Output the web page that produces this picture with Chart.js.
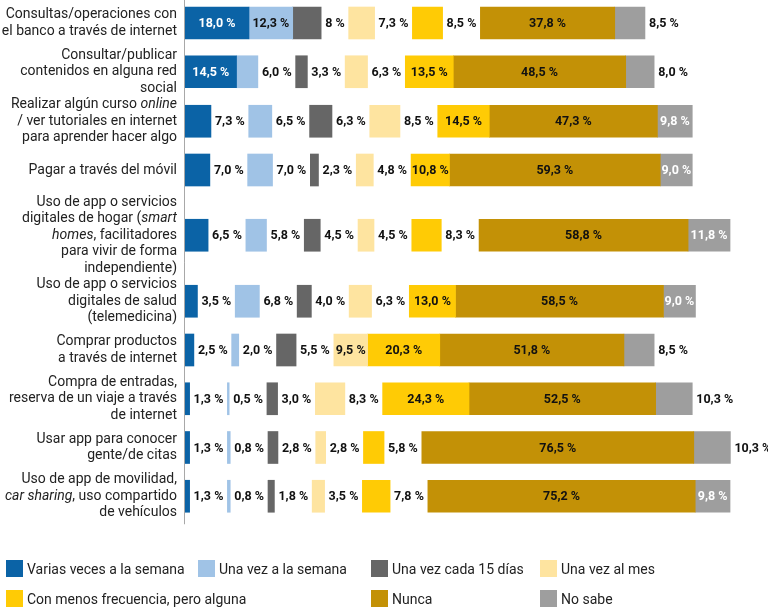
<!DOCTYPE html>
<html lang="es">
<head>
<meta charset="utf-8">
<script src="https://cdn.jsdelivr.net/npm/chart.js@4.4.1/dist/chart.umd.min.js"></script>
<style>
  body { margin: 0; background: #fff; }
  .wrap { position: relative; width: 768px; height: 611px; }
  .legend { position: absolute; left: 0; top: 0; font: 14px Roboto, sans-serif; color: #222; }
  .legend-item { position: absolute; display: flex; align-items: center; white-space: nowrap; height: 17px; }
  .legend-item .box { width: 17px; height: 17px; margin-right: 4px; }
</style>
</head>
<body>
<div class="wrap">
  <canvas class="js-chart" width="768" height="611"></canvas>
  <div class="legend js-legend"></div>
</div>
<script>
// category labels, one string per line; _text_ = italic
const categories = [
  ["Consultas/operaciones con", "el banco a través de internet"],
  ["Consultar/publicar", "contenidos en alguna red", "social"],
  ["Realizar algún curso _online_", "/ ver tutoriales en internet", "para aprender hacer algo"],
  ["Pagar a través del móvil"],
  ["Uso de app o servicios", "digitales de hogar (_smart_", "_homes_, facilitadores", "para vivir de forma", "independiente)"],
  ["Uso de app o servicios", "digitales de salud", "(telemedicina)"],
  ["Comprar productos", "a través de internet"],
  ["Compra de entradas,", "reserva de un viaje a través", "de internet"],
  ["Usar app para conocer", "gente/de citas"],
  ["Uso de app de movilidad,", "_car sharing_, uso compartido", "de vehículos"]
];

const seriesNames = [
  "Varias veces a la semana",
  "Una vez a la semana",
  "Una vez cada 15 días",
  "Una vez al mes",
  "Con menos frecuencia, pero alguna",
  "Nunca",
  "No sabe"
];

const variasVeces = [18.0, 14.5, 7.3, 7.0, 6.5, 3.5, 2.5, 1.3, 1.3, 1.3];
const unaVezSemana = [12.3, 6.0, 6.5, 7.0, 5.8, 6.8, 2.0, 0.5, 0.8, 0.8];
const cada15Dias = [8.0, 3.3, 6.3, 2.3, 4.5, 4.0, 5.5, 3.0, 2.8, 1.8];
const unaVezMes = [7.3, 6.3, 8.5, 4.8, 4.5, 6.3, 9.5, 8.3, 2.8, 3.5];
const menosFrecuencia = [8.5, 13.5, 14.5, 10.8, 8.3, 13.0, 20.3, 24.3, 5.8, 7.8];
const nunca = [37.8, 48.5, 47.3, 59.3, 58.8, 58.5, 51.8, 52.5, 76.5, 75.2];
const noSabe = [8.5, 8.0, 9.8, 9.0, 11.8, 9.0, 8.5, 10.3, 10.3, 9.8];

const series = [variasVeces, unaVezSemana, cada15Dias, unaVezMes, menosFrecuencia, nunca, noSabe];

const colors = ["#0b63a6", "#a0c3e6", "#666666", "#fee4a0", "#ffcb05", "#c39106", "#9e9e9e"];
const insideTextColors = ["#fff", "#111", "#fff", "#111", "#111", "#111", "#fff"];

// the picture writes this one as "8 %"
const labelOverrides = { "0-2": "8 %" };
// "No sabe" labels sitting inside the bar
const noSabeInside = [false, false, true, true, true, true, false, false, false, true];

const W = 768, H = 611;
const LEFT = 185;
const XMAX = 164;
const pxPerUnit = (W - LEFT) / XMAX;
const valueFont = "700 12.5px Roboto";
const catFont = "14px Roboto";
const lineH = 16.5;

const ctx = document.querySelector(".js-chart").getContext("2d");
const measure = document.createElement("canvas").getContext("2d");
measure.font = valueFont;

function labelText(v, row, col) {
  return labelOverrides[row + "-" + col] || v.toFixed(1).replace(".", ",") + " %";
}

function isInside(v, row, col) {
  if (col === 6) return noSabeInside[row];
  return v >= 9;
}

// row centres from label heights
function rowCenters() {
  const ext = categories.map((lines) => Math.max(48, lines.length * lineH));
  const out = [23];
  for (let i = 1; i < ext.length; i++) {
    out.push(out[i - 1] + (ext[i - 1] + ext[i]) / 2);
  }
  return out;
}
const centers = rowCenters();

// floating segments, with room after a segment when its label goes outside
function buildSegments() {
  const segs = series.map(() => []);
  categories.forEach((_, row) => {
    let cursor = 0;
    series.forEach((vals, col) => {
      const v = vals[row];
      segs[col].push({ x: [cursor, cursor + v], y: centers[row] });
      cursor += v;
      if (!isInside(v, row, col)) {
        const w = measure.measureText(labelText(v, row, col)).width;
        cursor += (w + 8) / pxPerUnit;
      }
    });
  });
  return segs;
}
const segments = buildSegments();

function drawRich(c, line, right, y) {
  const parts = line.split("_").map((t, i) => ({ t, italic: i % 2 === 1 }));
  let total = 0;
  parts.forEach((p) => {
    c.font = (p.italic ? "italic " : "") + catFont;
    p.w = c.measureText(p.t).width;
    total += p.w;
  });
  let x = right - total;
  parts.forEach((p) => {
    c.font = (p.italic ? "italic " : "") + catFont;
    c.fillText(p.t, x, y);
    x += p.w;
  });
}

const labelsPlugin = {
  id: "labels",
  afterDatasetsDraw(chart) {
    const c = chart.ctx;
    c.save();
    // axis line
    c.strokeStyle = "#a8a8a8";
    c.lineWidth = 1;
    c.beginPath();
    c.moveTo(LEFT - 0.5, 0);
    c.lineTo(LEFT - 0.5, chart.scales.y.getPixelForValue(centers[centers.length - 1]) + 28);
    c.stroke();

    // value labels
    c.font = valueFont;
    c.textBaseline = "middle";
    chart.data.datasets.forEach((ds, col) => {
      chart.getDatasetMeta(col).data.forEach((bar, row) => {
        const { x, base, y } = bar.getProps(["x", "base", "y"], true);
        const v = series[col][row];
        const txt = labelText(v, row, col);
        if (isInside(v, row, col)) {
          c.fillStyle = insideTextColors[col];
          c.textAlign = "center";
          c.fillText(txt, (x + base) / 2, y + 1);
        } else {
          c.fillStyle = "#111";
          c.textAlign = "left";
          c.fillText(txt, Math.max(x, base) + 4, y + 1);
        }
      });
    });

    // category labels
    c.fillStyle = "#222";
    c.textAlign = "left";
    const yScale = chart.scales.y;
    categories.forEach((lines, row) => {
      const cy = yScale.getPixelForValue(centers[row]);
      const top = cy - ((lines.length - 1) * lineH) / 2;
      lines.forEach((line, k) => drawRich(c, line, 177, top + k * lineH));
    });
    c.restore();
  }
};

new Chart(ctx, {
  type: "bar",
  data: {
    datasets: seriesNames.map((name, col) => ({
      label: name,
      data: segments[col],
      backgroundColor: colors[col],
      borderWidth: 0,
      barThickness: 32,
      grouped: false
    }))
  },
  options: {
    indexAxis: "y",
    responsive: false,
    animation: false,
    layout: { padding: { left: LEFT, right: 0, top: 0, bottom: 0 } },
    scales: {
      x: { type: "linear", min: 0, max: XMAX, display: false, offset: false },
      y: { type: "linear", min: 0, max: H, reverse: true, display: false, offset: false }
    },
    plugins: {
      legend: { display: false },
      tooltip: { enabled: false }
    }
  },
  plugins: [labelsPlugin]
});

// legend, 4 column grid
const legendCols = [6, 198, 371, 540];
const legendRows = [560, 590];
const legendSlots = [[0, 0], [1, 0], [2, 0], [3, 0], [0, 1], [2, 1], [3, 1]];
const legendEl = document.querySelector(".js-legend");
seriesNames.forEach((name, i) => {
  const [cx, ry] = legendSlots[i];
  const item = document.createElement("div");
  item.className = "legend-item";
  item.style.left = legendCols[cx] + "px";
  item.style.top = legendRows[ry] + "px";
  item.innerHTML = '<span class="box" style="background:' + colors[i] + '"></span><span>' + name + "</span>";
  legendEl.appendChild(item);
});
</script>
</body>
</html>
